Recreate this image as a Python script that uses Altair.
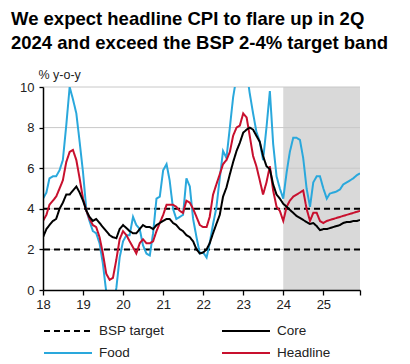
import altair as alt
import pandas as pd

# Monthly, Jan 2018 .. Dec 2025 (% y-o-y)
months = pd.date_range("2018-01-01", "2025-12-01", freq="MS").strftime("%Y-%m-%d").tolist()

headline = [
    3.4, 3.7, 4.2, 4.4, 4.6, 5.0, 5.4, 6.3, 6.8, 6.9, 6.4, 5.5,      # 2018
    4.5, 3.9, 3.5, 3.2, 3.1, 2.6, 1.8, 0.8, 0.5, 0.6, 1.5, 2.5,      # 2019
    2.9, 2.7, 2.4, 2.1, 1.8, 2.3, 2.5, 2.3, 2.3, 2.4, 2.9, 3.3,      # 2020
    3.7, 4.2, 4.2, 4.2, 4.1, 3.9, 3.8, 4.4, 4.3, 4.0, 3.6, 3.2,      # 2021
    3.1, 3.1, 3.6, 4.7, 5.2, 5.7, 6.2, 6.4, 6.8, 7.6, 8.0, 8.1,      # 2022
    8.7, 8.5, 7.6, 6.6, 6.1, 5.4, 4.7, 5.3, 6.1, 4.9, 4.1, 3.9,      # 2023
    3.4, 4.1, 4.4, 4.6, 4.7, 4.8, 4.9, 4.0, 3.4, 3.8, 3.8, 3.4,      # 2024
    3.3, 3.4, 3.45, 3.5, 3.55, 3.6, 3.65, 3.7, 3.75, 3.8, 3.85, 3.9, # 2025
]
core = [
    2.6, 3.0, 3.2, 3.4, 3.5, 4.0, 4.3, 4.7, 4.7, 4.9, 5.1, 4.8,
    4.4, 3.9, 3.6, 3.4, 3.5, 3.3, 3.1, 2.9, 2.7, 2.6, 2.55, 3.0,
    3.2, 3.05, 2.9, 2.8, 2.8, 3.0, 3.2, 3.1, 3.1, 3.0, 3.2, 3.3,
    3.4, 3.5, 3.5, 3.3, 3.2, 3.0, 2.9, 2.7, 2.6, 2.4, 2.0, 1.8,
    1.85, 2.0, 2.3, 2.8, 3.25, 3.7, 4.6, 5.05, 5.7, 6.3, 6.85, 7.25,
    7.75, 7.9, 8.0, 7.9, 7.6, 7.3, 6.6, 6.1, 5.95, 5.2, 4.7, 4.5,
    4.25, 4.1, 3.95, 3.8, 3.65, 3.55, 3.45, 3.35, 3.25, 3.3, 3.15, 2.95,
    3.0, 3.0, 3.05, 3.1, 3.15, 3.2, 3.3, 3.35, 3.35, 3.4, 3.4, 3.45,
]
food = [
    4.5, 4.8, 5.5, 5.6, 5.6, 5.9, 6.4, 8.1, 10.0, 9.4, 8.7, 7.3,
    5.8, 3.9, 3.4, 2.9, 2.8, 2.3, 1.3, -0.1, -1.0, -0.8, 0.1, 1.6,
    2.4, 2.7, 2.7, 3.6, 3.2, 3.0, 2.2, 1.8, 1.7, 2.8, 4.5, 4.6,
    5.9, 6.2, 5.4, 4.0, 3.5, 3.6, 3.7, 5.5, 5.1, 3.5, 2.6, 1.8,
    1.85, 1.6, 2.3, 3.25, 4.05, 5.5, 6.85, 6.5, 8.0, 9.5, 10.5, 10.8,
    11.2, 10.8, 9.7, 8.7, 7.8, 7.3, 6.4, 8.0, 9.8, 7.2, 5.6, 5.0,
    4.5, 5.8, 6.8, 7.5, 7.5, 7.4, 6.5, 5.0, 4.1, 5.3, 5.6, 5.6,
    5.0, 4.5, 4.75, 4.8, 4.85, 4.95, 5.2, 5.3, 5.4, 5.5, 5.65, 5.75,
]

bsp_band = [2, 4]
grid_values = [2, 4, 6, 8, 10]
y_ticks = [0, 2, 4, 6, 8, 10]
tick_years = [2018, 2019, 2020, 2021, 2022, 2023, 2024, 2025]
forecast_start = ["2024-01-01"]
forecast_end = ["2025-12-01"]

series_names = ["BSP target", "Core", "Food", "Headline"]
series_colors = ["#000000", "#000000", "#2AA8DC", "#C8102E"]
series_dashes = [[6, 4], [1, 0], [1, 0], [1, 0]]
series_widths = [2.0, 2.0, 1.4, 2.2]

title_lines = ["We expect headline CPI to flare up in 2Q",
               "2024 and exceed the BSP 2-4% target band"]

FONT = "Liberation Sans"

rows = []
for name, vals in (("Food", food), ("Headline", headline), ("Core", core)):
    for m, v in zip(months, vals):
        rows.append({"month": m, "value": v, "series": name})
lines_df = pd.DataFrame(rows)
bsp_df = pd.DataFrame({"value": bsp_band, "series": ["BSP target"] * len(bsp_band)})
grid_df = pd.DataFrame({"value": grid_values})
shade_df = pd.DataFrame({"start": forecast_start, "end": forecast_end})

x_scale = alt.Scale(type="utc", domain=[alt.DateTime(year=2018, month=1, date=1, utc=True),
                                        alt.DateTime(year=2025, month=12, date=1, utc=True)])
y_scale = alt.Scale(domain=[0, 10], nice=False)

color_enc = alt.Color("series:N", scale=alt.Scale(domain=series_names, range=series_colors),
                      legend=alt.Legend(title=None))
dash_enc = alt.StrokeDash("series:N", scale=alt.Scale(domain=series_names, range=series_dashes),
                          legend=alt.Legend(title=None))
width_enc = alt.StrokeWidth("series:N", scale=alt.Scale(domain=series_names, range=series_widths),
                            legend=alt.Legend(title=None))

x_axis = alt.Axis(
    values=[alt.DateTime(year=y, month=1, date=1, utc=True) for y in tick_years]
    + [alt.DateTime(year=2025, month=12, date=1, utc=True)],
    labelExpr="utcmonth(datum.value) == 0 ? utcFormat(datum.value, '%y') : ''",
    labelOverlap=False, labelFlush=False, labelSeparation=0,
    title=None, grid=False, tickSize=5, labelPadding=3, zindex=1,
)
y_axis = alt.Axis(
    values=y_ticks, title="% y-o-y", titleAngle=0, titleAlign="left", titleBaseline="bottom",
    titleX=-5, titleY=-6, titleFontWeight="normal", titleFontSize=12.5, grid=False,
    tickSize=4, labelPadding=5, zindex=1, minExtent=32,
)

shade = alt.Chart(shade_df).mark_rect(color="#D9D9D9").encode(
    x=alt.X("start:T", scale=x_scale, axis=x_axis),
    x2="end:T",
    y=alt.Y(datum=0, scale=y_scale, axis=y_axis),
    y2=alt.Y2(datum=10),
)

grid = alt.Chart(grid_df).mark_rule(color="#C8C8C8", strokeWidth=1).encode(
    y=alt.Y("value:Q", scale=y_scale, axis=y_axis),
)

bsp = alt.Chart(bsp_df).mark_rule().encode(
    y=alt.Y("value:Q", scale=y_scale, axis=y_axis),
    color=color_enc, strokeDash=dash_enc, strokeWidth=width_enc,
)

lines = alt.Chart(lines_df).mark_line(clip=True).encode(
    x=alt.X("month:T", scale=x_scale, axis=x_axis),
    y=alt.Y("value:Q", scale=y_scale, axis=y_axis),
    color=color_enc, strokeDash=dash_enc, strokeWidth=width_enc,
    detail="series:N",
    order=alt.Order("month:T"),
)

chart = alt.layer(shade, grid, bsp, lines).properties(
    width=317, height=203,
    padding={"left": 3, "top": 2, "right": 5, "bottom": 2},
    title=alt.TitleParams(title_lines, anchor="start", frame="bounds", fontSize=18.5,
                          font=FONT, fontWeight="bold", lineHeight=23.5, offset=16,
                          color="#000000"),
).configure_axis(
    labelFont=FONT, titleFont=FONT, labelFontSize=13, labelColor="#222222",
    titleColor="#222222", domainColor="#000000", domainWidth=1.5, tickColor="#000000",
    tickWidth=1.3, labelOverlap=False,
).configure_legend(
    orient="bottom", direction="horizontal", columns=2, symbolType="stroke",
    symbolSize=2300, labelFont=FONT, labelFontSize=13.5, labelColor="#222222",
    columnPadding=56, rowPadding=6, offset=12, labelOffset=6, clipHeight=16,
).configure_view(stroke=None)

chart.save("out.html", embed_options={"renderer": "svg", "actions": False})
